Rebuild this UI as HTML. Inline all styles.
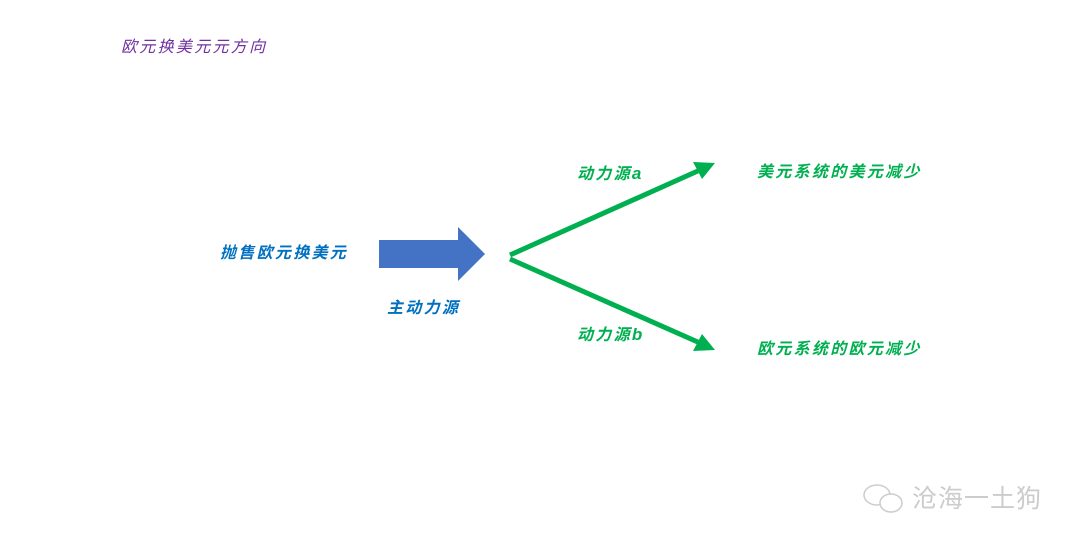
<!DOCTYPE html>
<html><head><meta charset="utf-8"><style>
html,body{margin:0;padding:0;background:#fff;}
body{width:1080px;height:550px;position:relative;overflow:hidden;font-family:"Liberation Sans","Noto Sans CJK SC",sans-serif;}
.t{position:absolute;font-style:italic;font-size:16px;letter-spacing:2.3px;white-space:nowrap;line-height:1;}
.l{letter-spacing:0;font-size:17px;}
</style></head><body>
<div class="t" style="left:121px;top:40px;color:#7030a0;">欧元换美元元方向</div>
<div class="t" style="left:220px;top:246px;color:#0070c0;font-weight:bold;">抛售欧元换美元</div>
<div class="t" style="left:387px;top:301px;color:#0070c0;font-weight:bold;">主动力源</div>
<div class="t" style="left:577px;top:165px;color:#00b050;font-weight:bold;">动力源<span class="l">a</span></div>
<div class="t" style="left:577px;top:326px;color:#00b050;font-weight:bold;">动力源<span class="l">b</span></div>
<div class="t" style="left:757px;top:165px;color:#00b050;font-weight:bold;">美元系统的美元减少</div>
<div class="t" style="left:757px;top:342px;color:#00b050;font-weight:bold;">欧元系统的欧元减少</div>
<svg width="1080" height="550" style="position:absolute;left:0;top:0">
<polygon points="379,240 458,240 458,227 485,254 458,281 458,268 379,268" fill="#4472c4"/>
<line x1="510" y1="255" x2="700" y2="170" stroke="#00b050" stroke-width="5"/>
<polygon points="715,163 693,162 702,179" fill="#00b050"/>
<line x1="510" y1="259" x2="700" y2="343" stroke="#00b050" stroke-width="5"/>
<polygon points="715,350 702,334 693,351" fill="#00b050"/>
<g fill="none" stroke="#ccc" stroke-width="1.5">
<ellipse cx="877" cy="495" rx="13" ry="10"/>
<ellipse cx="891" cy="503" rx="11" ry="9" fill="#fff"/>
</g>
</svg>
<div class="t" style="left:912px;top:487px;color:#ccc;font-style:normal;font-size:25px;letter-spacing:1px;">沧海一土狗</div>
</body></html>
